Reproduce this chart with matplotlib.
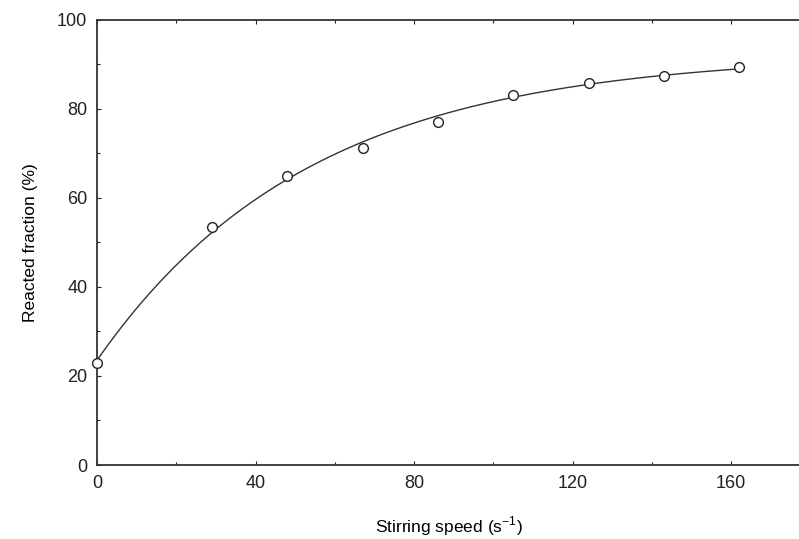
import numpy as np
import matplotlib.pyplot as plt
from matplotlib.ticker import MultipleLocator

plt.rcParams['font.family'] = ['Liberation Sans', 'DejaVu Sans']

# data
speed = [0, 29, 48, 67, 86, 105, 124, 143, 162]
fraction = [23.0, 53.5, 64.8, 71.1, 77.1, 83.1, 85.8, 87.3, 89.4]

# saturating fit y = a - b*exp(-k*x), k by grid search, a/b by least squares
x = np.array(speed, dtype=float)
y = np.array(fraction)
best = None
for k in np.linspace(0.005, 0.08, 1500):
    A = np.column_stack([np.ones_like(x), -np.exp(-k * x)])
    sol, res, *_ = np.linalg.lstsq(A, y, rcond=None)
    err = np.sum((A @ sol - y) ** 2)
    if best is None or err < best[0]:
        best = (err, k, sol)
_, k, (a, b) = best
xs = np.linspace(0, max(speed), 300)
ys = a - b * np.exp(-k * xs)

fig = plt.figure(figsize=(7.99, 5.39), dpi=100)
ax = fig.add_axes([97 / 799, 74 / 539, 1 - 97 / 799 + 0.002, (465 - 19.5) / 539])

ax.plot(xs, ys, color='#333333', lw=1.0, zorder=2)
ax.plot(speed, fraction, 'o', mfc='white', mec='#222222', mew=1.0, ms=7, zorder=3,
        clip_on=False)

ax.set_xlim(0, 177.5)
ax.set_ylim(0, 100)
ax.xaxis.set_major_locator(MultipleLocator(40))
ax.xaxis.set_minor_locator(MultipleLocator(20))
ax.yaxis.set_major_locator(MultipleLocator(20))
ax.yaxis.set_minor_locator(MultipleLocator(10))
ax.tick_params(which='both', direction='in', top=True, right=False,
               labelsize=13, colors='#222222', width=0.8)
ax.tick_params(which='major', length=3, pad=7)
ax.tick_params(which='minor', length=2)

ax.spines['right'].set_visible(False)
for s in ['left', 'bottom', 'top']:
    ax.spines[s].set_linewidth(1.3)
    ax.spines[s].set_color('#333333')

ax.set_xlabel('Stirring speed (s$^{\\mathregular{-1}}$)', fontsize=12.5, labelpad=16)
ax.set_ylabel('Reacted fraction (%)', fontsize=12.5, labelpad=14)

fig.savefig('out.png', dpi=100)
